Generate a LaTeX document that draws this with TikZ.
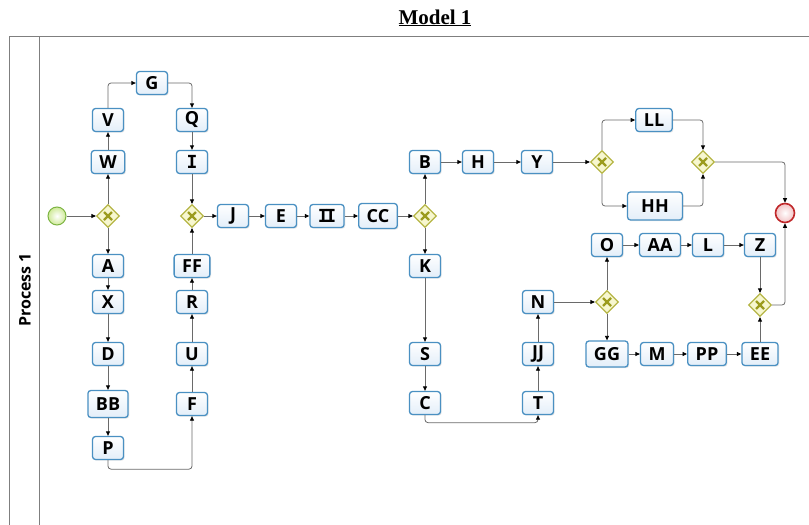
\documentclass[tikz,border=0pt]{standalone}
\usepackage{fontspec}
\setmainfont{Open Sans}
\newfontfamily\titlefont{Liberation Serif}
\newfontfamily\serifI{DejaVu Sans Mono}
\usetikzlibrary{arrows.meta,shapes.geometric,shadows}

\definecolor{taskborder}{HTML}{4A90C2}
\definecolor{taskfill}{HTML}{E3EEF9}
\definecolor{gwborder}{HTML}{B5B545}
\definecolor{gwfill}{HTML}{F7F7CF}
\definecolor{gwx}{HTML}{9C9C1E}
\definecolor{flowc}{HTML}{6A6A6A}
\definecolor{poolc}{HTML}{7F7F7F}
\definecolor{startb}{HTML}{7DB443}
\definecolor{startf}{HTML}{CFEA98}
\definecolor{endb}{HTML}{C0282A}
\definecolor{endf}{HTML}{F2C4C6}

\begin{document}
\begin{tikzpicture}[x=1pt,y=-1pt,
  task/.style={draw=taskborder, line width=1.3pt, rounded corners=3pt,
    top color=white, bottom color=taskfill,
    minimum width=31pt, minimum height=23pt, inner xsep=8pt, inner ysep=0pt,
    font=\fontsize{18}{18}\selectfont\bfseries,
    drop shadow={opacity=0.18, shadow xshift=1.2pt, shadow yshift=-1.2pt}},
  gw/.style={diamond, draw=gwborder, line width=1.2pt, fill=gwfill,
    minimum width=23pt, minimum height=23pt, inner sep=0pt,
    path picture={
      \draw[gwx, line width=2.2pt]
        ([shift={(-4pt,-4pt)}]path picture bounding box.center) --
        ([shift={(4pt,4pt)}]path picture bounding box.center);
      \draw[gwx, line width=2.2pt]
        ([shift={(-4pt,4pt)}]path picture bounding box.center) --
        ([shift={(4pt,-4pt)}]path picture bounding box.center);}},
  startev/.style={circle, draw=startb, line width=1pt, inner color=white, outer color=startf,
    minimum size=18pt, inner sep=0pt},
  endev/.style={circle, draw=endb, line width=1.6pt, inner color=white, outer color=endf,
    minimum size=19pt, inner sep=0pt},
  flow/.style={draw=flowc, line width=0.8pt, rounded corners=3pt,
    -{Triangle[length=4.5pt,width=4pt,color=black]}},
  pool/.style={draw=poolc, line width=1pt}
]
\useasboundingbox (0,0) rectangle (809,525);

% title
\node[font=\fontsize{21}{21}\selectfont\titlefont\bfseries, anchor=base] (title) at (435,24) {\underline{Model 1}};

% pool and lane
\draw[pool] (809,36) -- (9,36) -- (9,525);
\draw[pool] (39,36) -- (39,525);
\node[rotate=90, font=\fontsize{16}{16}\selectfont\bfseries] (lane) at (25,290) {Process 1};

% events and gateways
\node[startev] (start) at (57,216) {};
\node[gw] (g1) at (108,216) {};
\node[gw] (g2) at (192,216) {};
\node[gw] (g3) at (425,216) {};
\node[gw] (g4) at (602,162) {};
\node[gw] (g5) at (703,162) {};
\node[gw] (g6) at (607,302) {};
\node[gw] (g7) at (760,305) {};
\node[endev] (end) at (785,213) {};

% tasks, left part
\node[task] (W) at (108,162) {W};
\node[task] (V) at (108,120) {V};
\node[task] (G) at (152,83) {G};
\node[task] (Q) at (192,120) {Q};
\node[task, font=\fontsize{18}{18}\selectfont\serifI\bfseries] (I) at (192,162) {I};
\node[task] (A) at (108,266) {A};
\node[task] (X) at (108,302) {X};
\node[task] (D) at (108,354) {D};
\node[task, minimum height=27pt] (BB) at (108,404) {BB};
\node[task] (P) at (108,448) {P};
\node[task] (FF) at (192,266) {FF};
\node[task] (R) at (192,302) {R};
\node[task] (U) at (192,354) {U};
\node[task] (F) at (192,404) {F};

% middle row
\node[task] (J) at (233,216) {J};
\node[task] (E) at (281,216) {E};
\node[task, font=\fontsize{18}{18}\selectfont\serifI\bfseries, minimum width=32pt] (II) at (327,216) {I\kern-3.5pt I};
\node[task, minimum height=25pt] (CC) at (378,216) {CC};

% right part
\node[task] (B) at (425,162) {B};
\node[task] (H) at (478,162) {H};
\node[task] (Y) at (537,162) {Y};
\node[task] (LL) at (654,120) {LL};
\node[task, minimum width=55pt, minimum height=28pt] (HH) at (655,206) {HH};
\node[task] (O) at (607,245) {O};
\node[task] (AA) at (660,245) {AA};
\node[task] (L) at (708,245) {L};
\node[task] (Z) at (760,245) {Z};
\node[task] (K) at (425,266) {K};
\node[task] (N) at (538,302) {N};
\node[task] (S) at (425,354) {S};
\node[task] (JJ) at (538,354) {JJ};
\node[task, minimum height=26pt] (GG) at (607,354) {GG};
\node[task] (M) at (657,354) {M};
\node[task] (PP) at (707,354) {PP};
\node[task] (EE) at (760,354) {EE};
\node[task] (C) at (425,403) {C};
\node[task] (T) at (538,403) {T};

% flows, left part
\draw[flow] (start) -- (g1);
\draw[flow] (g1) -- (W);
\draw[flow] (W) -- (V);
\draw[flow] (V) |- (G);
\draw[flow] (G) -| (Q);
\draw[flow] (Q) -- (I);
\draw[flow] (I) -- (g2);
\draw[flow] (g1) -- (A);
\draw[flow] (A) -- (X);
\draw[flow] (X) -- (D);
\draw[flow] (D) -- (BB);
\draw[flow] (BB) -- (P);
\draw[flow] (P.south) -- ++(0,9) -| (F.south);
\draw[flow] (F) -- (U);
\draw[flow] (U) -- (R);
\draw[flow] (R) -- (FF);
\draw[flow] (FF) -- (g2);

% middle
\draw[flow] (g2) -- (J);
\draw[flow] (J) -- (E);
\draw[flow] (E) -- (II);
\draw[flow] (II) -- (CC);
\draw[flow] (CC) -- (g3);

% upper right
\draw[flow] (g3) -- (B);
\draw[flow] (B) -- (H);
\draw[flow] (H) -- (Y);
\draw[flow] (Y) -- (g4);
\draw[flow] (g4) |- (LL);
\draw[flow] (g4) |- (HH);
\draw[flow] (LL) -| (g5);
\draw[flow] (HH) -| (g5);
\draw[flow] (g5) -| (end);

% lower right
\draw[flow] (g3) -- (K);
\draw[flow] (K) -- (S);
\draw[flow] (S) -- (C);
\draw[flow] (C.south) -- ++(0,7.5) -| (T.south);
\draw[flow] (T) -- (JJ);
\draw[flow] (JJ) -- (N);
\draw[flow] (N) -- (g6);
\draw[flow] (g6) -- (O);
\draw[flow] (g6) -- (GG);
\draw[flow] (O) -- (AA);
\draw[flow] (AA) -- (L);
\draw[flow] (L) -- (Z);
\draw[flow] (Z) -- (g7);
\draw[flow] (GG) -- (M);
\draw[flow] (M) -- (PP);
\draw[flow] (PP) -- (EE);
\draw[flow] (EE) -- (g7);
\draw[flow] (g7) -| (end);
\end{tikzpicture}
\end{document}
